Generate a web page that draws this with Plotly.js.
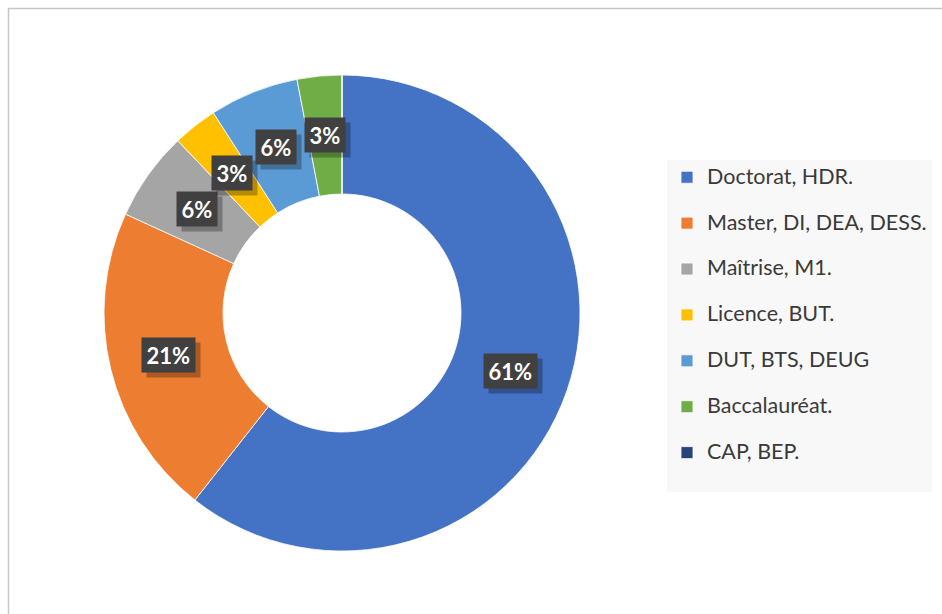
<!DOCTYPE html>
<html>
<head>
<meta charset="utf-8">
<script src="https://cdn.plot.ly/plotly-3.0.1.min.js"></script>
<style>html,body{margin:0;padding:0;background:#fff;}#chart{width:942px;height:614px;}</style>
</head>
<body>
<div id="chart"></div>
<script>
// ---- data ----
var labels = ["Doctorat, HDR.", "Master, DI, DEA, DESS.", "Maîtrise, M1.", "Licence, BUT.", "DUT, BTS, DEUG", "Baccalauréat.", "CAP, BEP."];
var counts = [20, 7, 2, 1, 2, 1, 0];
var colors = ["#4472C4", "#ED7D31", "#A5A5A5", "#FFC000", "#5B9BD5", "#70AD47", "#264478"];

// ---- geometry ----
var W = 942, H = 614;
var cx = 342, cyTop = 313, R = 238, hole = 0.5;
var cyB = H - cyTop;
var domX = [(cx - R) / W, (cx + R) / W];
var domY = [(cyB - R) / H, (cyB + R) / H];

var total = counts.reduce(function (a, b) { return a + b; }, 0);
var rMid = R * (1 + hole) / 2;
var annotations = [];
var cum = 0;
var labFont = "Lato, 'Liberation Sans', sans-serif";
counts.forEach(function (v, i) {
  if (v > 0) {
    var theta = (cum + v / 2) / total * 2 * Math.PI;
    var px = cx + rMid * Math.sin(theta);
    var py = cyB + rMid * Math.cos(theta);
    var txt = Math.round(v / total * 100) + "%";
    var boxW = txt.length * 12.5 + 11;
    // shadow box (no text)
    annotations.push({
      xref: "paper", yref: "paper", x: px / W, y: py / H,
      xanchor: "center", yanchor: "middle", showarrow: false,
      text: "\u00a0", width: boxW, height: 30, borderpad: 2,
      xshift: 5, yshift: -5, bgcolor: "rgba(0,0,0,0.28)",
      font: {family: labFont, size: 22, color: "rgba(0,0,0,0)"}
    });
    annotations.push({
      xref: "paper", yref: "paper", x: px / W, y: py / H,
      xanchor: "center", yanchor: "middle", showarrow: false,
      text: "<b>" + txt + "</b>", width: boxW, height: 30, borderpad: 2,
      bgcolor: "#404040",
      font: {family: labFont, size: 22, color: "#ffffff"}
    });
  }
  cum += v;
});

var legendNames = labels.map(function (l) {
  return '<span style="font-size:21.5px">' + l + '</span><br>\u00a0';
});

var trace = {
  type: "pie",
  labels: legendNames,
  values: counts,
  hole: hole,
  sort: false,
  direction: "clockwise",
  rotation: 0,
  textinfo: "none",
  hoverinfo: "none",
  marker: {colors: colors, line: {color: "#ffffff", width: 0.8}},
  domain: {x: domX, y: domY}
};

var layout = {
  width: W, height: H,
  margin: {l: 0, r: 0, t: 0, b: 0},
  paper_bgcolor: "#ffffff",
  showlegend: true,
  legend: {
    x: 667 / W, y: (H - 160) / H, xanchor: "left", yanchor: "top",
    bgcolor: "#f8f8f8", borderwidth: 0,
    valign: "top",
    font: {family: labFont, size: 16.5, color: "#3a3a3a"}
  },
  annotations: annotations,
  shapes: [{
    type: "rect", xref: "paper", yref: "paper",
    x0: 8.5 / W, x1: 1.05, y0: -0.05, y1: (H - 8.5) / H,
    line: {color: "#c6c6c6", width: 1.5}, fillcolor: "rgba(0,0,0,0)", layer: "below"
  }]
};

Plotly.newPlot("chart", [trace], layout, {displayModeBar: false, staticPlot: true});
</script>
</body>
</html>
